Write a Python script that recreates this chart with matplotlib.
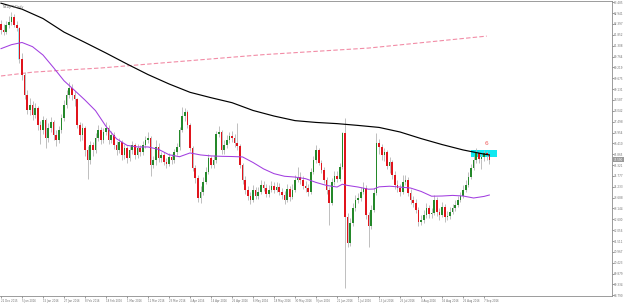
import matplotlib
matplotlib.use("Agg")
import matplotlib.pyplot as plt
from matplotlib.patches import Rectangle

symbol_title = "NZDJPY,Daily"

date_labels = ["22 Dec 2015", "5 Jan 2016", "15 Jan 2016", "27 Jan 2016", "8 Feb 2016",
               "18 Feb 2016", "1 Mar 2016", "11 Mar 2016", "23 Mar 2016", "4 Apr 2016",
               "14 Apr 2016", "26 Apr 2016", "6 May 2016", "18 May 2016", "30 May 2016",
               "9 Jun 2016", "21 Jun 2016", "1 Jul 2016", "13 Jul 2016", "25 Jul 2016",
               "4 Aug 2016", "16 Aug 2016", "26 Aug 2016", "7 Sep 2016"]
date_label_bars = list(range(0, 187, 8))

price_ticks = [68.790, 69.334, 69.879, 70.423, 70.967, 71.511, 72.056, 72.600, 73.144,
               73.688, 74.233, 74.777, 75.321, 75.865, 76.410, 76.954, 77.498, 78.042,
               78.587, 79.131, 79.675, 80.219, 80.764, 81.308, 81.852, 82.397, 82.941, 83.485]

first_open = 82.40
closes = [
    82.12, 82.02, 82.37, 82.52, 82.73, 82.37, 82.22, 80.62, 79.86, 78.86,
    78.10, 78.35, 77.85, 78.20, 77.35, 77.10, 77.60, 76.70, 77.20, 77.50,
    76.85, 76.60, 77.10, 77.70, 78.35, 78.86, 79.21, 78.86, 78.61, 77.35,
    76.85, 77.20, 76.09, 75.59, 76.34, 76.09, 76.70, 77.10, 76.60, 77.00,
    77.20, 76.60, 76.85, 76.34, 76.09, 76.49, 75.84, 76.19, 75.69, 76.09,
    76.34, 75.84, 76.19, 75.99, 76.34, 76.60, 76.70, 75.34, 75.59, 76.24,
    75.69, 75.84, 75.49, 75.39, 75.74, 75.59, 75.99, 76.24, 77.10, 77.80,
    78.00, 77.35, 76.19, 75.19, 74.69, 73.68, 73.98, 74.48, 74.99, 75.69,
    75.34, 75.59, 76.90, 77.00, 76.09, 76.34, 76.60, 76.80, 76.70, 76.44,
    76.29, 75.34, 74.58, 74.08, 73.78, 73.58, 74.08, 73.78, 73.98, 74.33,
    74.18, 73.88, 74.08, 74.28, 74.08, 74.23, 73.98, 73.83, 73.58, 74.13,
    73.73, 74.08, 74.58, 74.74, 74.58, 74.28, 74.18, 73.98, 74.99, 75.59,
    76.09, 75.44, 75.09, 74.58, 74.08, 73.43, 74.48, 74.79, 74.64, 75.24,
    76.95, 72.73, 71.42, 72.42, 73.18, 73.58, 73.68, 73.98, 74.18, 72.83,
    72.27, 73.08, 73.93, 76.44, 76.24, 75.84, 75.99, 75.29, 75.49, 74.84,
    74.33, 74.18, 73.98, 74.48, 74.58, 73.93, 73.58, 73.43, 73.08, 72.47,
    72.58, 72.83, 73.18, 72.88, 72.93, 73.58, 72.98, 72.83, 73.23, 72.73,
    72.78, 72.98, 73.18, 73.33, 73.58, 73.78, 74.08, 74.33, 74.74, 75.19,
    75.59, 75.94, 75.64, 75.74, 75.94, 75.84, 75.59,
]
highs = [
    82.62, 82.40, 82.55, 82.80, 83.00, 82.90, 82.55, 82.25, 80.95, 80.00,
    79.10, 78.70, 78.55, 78.45, 78.30, 77.55, 77.80, 77.70, 77.45, 77.75,
    77.60, 77.10, 77.30, 77.90, 78.60, 79.10, 79.50, 79.40, 79.05, 78.70,
    77.50, 77.45, 77.30, 76.30, 76.55, 76.50, 76.95, 77.35, 77.25, 77.20,
    77.50, 77.35, 77.05, 77.00, 76.55, 76.70, 76.60, 76.40, 76.30, 76.30,
    76.55, 76.45, 76.40, 76.35, 76.55, 76.80, 77.00, 76.80, 75.80, 76.60,
    76.45, 76.00, 76.00, 75.70, 75.95, 75.90, 76.15, 76.45, 77.25, 78.25,
    78.20, 78.10, 77.45, 76.30, 75.35, 74.80, 74.25, 74.70, 75.20, 75.90,
    75.80, 75.85, 77.05, 77.30, 77.10, 76.60, 76.85, 77.00, 77.05, 76.90,
    77.45, 76.40, 75.45, 74.75, 74.25, 73.95, 74.30, 74.20, 74.20, 74.55,
    74.50, 74.35, 74.30, 74.50, 74.45, 74.45, 74.40, 74.15, 74.00, 74.35,
    74.25, 74.35, 74.80, 75.24, 74.95, 74.75, 74.50, 74.35, 75.15, 75.80,
    76.35, 76.20, 75.60, 75.20, 74.70, 74.20, 74.65, 75.00, 75.00, 75.45,
    77.00, 77.70, 72.90, 72.65, 73.40, 73.80, 73.90, 74.20, 74.45, 74.30,
    72.95, 73.30, 74.15, 76.95, 76.65, 76.40, 76.20, 76.10, 75.75, 75.60,
    75.00, 74.55, 74.35, 74.80, 74.80, 74.70, 74.10, 73.75, 73.60, 73.20,
    72.80, 73.05, 73.40, 73.30, 73.15, 73.80, 73.70, 73.15, 73.45, 73.35,
    73.00, 73.20, 73.35, 73.55, 73.75, 73.95, 74.30, 74.55, 74.95, 75.40,
    75.80, 76.20, 76.05, 75.95, 76.10, 76.05, 75.95,
]
lows = [
    81.90, 81.85, 81.90, 82.20, 82.35, 82.25, 82.05, 80.45, 79.60, 78.65,
    77.90, 77.85, 77.60, 77.70, 77.10, 76.40, 76.90, 76.20, 76.50, 77.00,
    76.60, 76.30, 76.45, 76.95, 77.55, 78.20, 78.70, 78.60, 78.30, 77.20,
    76.55, 76.60, 75.80, 74.60, 75.40, 75.80, 75.95, 76.55, 76.40, 76.45,
    76.85, 76.40, 76.45, 76.15, 75.85, 75.95, 75.60, 75.65, 75.45, 75.55,
    75.90, 75.65, 75.70, 75.80, 75.85, 76.20, 76.45, 74.75, 75.15, 75.35,
    75.50, 75.50, 75.30, 75.15, 75.25, 75.40, 75.45, 75.85, 76.10, 77.00,
    77.55, 77.20, 76.05, 75.00, 74.40, 73.45, 73.40, 73.80, 74.35, 74.85,
    75.15, 75.15, 75.45, 76.75, 75.90, 75.90, 76.20, 76.45, 76.50, 76.25,
    76.10, 75.15, 74.35, 73.85, 73.55, 73.35, 73.45, 73.60, 73.60, 73.85,
    74.00, 73.70, 73.70, 73.95, 73.90, 73.95, 73.80, 73.60, 73.35, 73.45,
    73.50, 73.60, 73.95, 74.45, 74.35, 74.10, 73.95, 73.75, 73.85, 74.85,
    75.45, 75.30, 74.90, 74.40, 73.85, 72.30, 73.30, 74.30, 74.45, 74.50,
    75.10, 69.16, 71.20, 71.25, 72.25, 73.00, 73.40, 73.50, 73.85, 72.60,
    71.20, 72.10, 72.95, 73.80, 75.90, 75.60, 75.55, 75.10, 74.90, 74.60,
    74.10, 73.95, 73.75, 73.85, 74.30, 73.75, 73.35, 73.20, 72.90, 72.25,
    72.30, 72.40, 72.65, 72.65, 72.65, 72.80, 72.75, 72.55, 72.70, 72.45,
    72.55, 72.60, 72.85, 73.00, 73.20, 73.45, 73.65, 73.95, 74.20, 74.60,
    75.05, 75.45, 75.45, 75.10, 75.55, 75.60, 75.40,
]
opens = [first_open] + closes[:-1]

# bar that carries the light-blue highlight stroke
highlight_bar = 7

# slow moving average (black), read at every 8th bar
slow_ma_bars = [0, 8, 16, 24, 32, 40, 48, 56, 64, 72, 80, 88, 96, 104, 112, 120,
                128, 136, 144, 152, 160, 168, 176, 184, 186]
slow_ma = [83.44, 83.14, 82.67, 81.99, 81.47, 80.94, 80.39, 79.86, 79.39, 78.97,
           78.70, 78.45, 78.06, 77.78, 77.55, 77.46, 77.40, 77.31, 77.21, 76.98,
           76.65, 76.35, 76.08, 75.87, 75.83]

# fast moving average (purple)
fast_ma_bars = [0, 4, 8, 12, 16, 20, 24, 28, 32, 36, 40, 44, 48, 52, 56, 60, 64, 68,
                72, 76, 80, 84, 88, 92, 96, 100, 104, 108, 112, 116, 120, 124, 128, 130,
                132, 136, 140, 142, 144, 148, 152, 156, 160, 164, 168, 172, 176, 180,
                184, 186]
fast_ma = [81.16, 81.36, 81.47, 81.26, 80.84, 80.21, 79.55, 79.07, 78.58, 78.05,
           77.26, 76.64, 76.31, 76.23, 76.23, 76.11, 75.84, 75.74, 75.93, 75.83,
           75.78, 75.76, 75.75, 75.73, 75.45, 75.13, 74.89, 74.76, 74.72, 74.64,
           74.45, 74.30, 74.22, 74.36, 74.30, 74.22, 74.11, 74.12, 74.23, 74.26,
           74.22, 74.17, 74.00, 73.76, 73.77, 73.80, 73.77, 73.67, 73.75, 73.82]

# pink dashed average
pink_bars = [0, 12, 25, 38, 61, 100, 140, 185]
pink_ma = [79.79, 79.98, 80.09, 80.19, 80.44, 80.86, 81.19, 81.79]

# cyan zone and its label
zone_bars = (179.0, 189.0)
zone_prices = (75.73, 76.08)
zone_label = "6"
zone_label_pos = (184.8, 76.40)

fig = plt.figure(figsize=(6.25, 3.03), dpi=100)
ax = fig.add_axes([0, 7 / 303, 611.7 / 625, 295 / 303])
ax.set_xlim(-0.38, 232.6)
ax.set_ylim(68.755, 83.55)

grid_col = "#8c8c8c"
text_col = "#707070"

ax.add_patch(Rectangle((zone_bars[0], zone_prices[0]), zone_bars[1] - zone_bars[0],
                       zone_prices[1] - zone_prices[0], facecolor="#10e8f0",
                       edgecolor="none", zorder=1))

ax.plot(pink_bars, pink_ma, color="#f28ca6", lw=0.8, ls=(0, (4, 2)), zorder=2)

bars = list(range(len(closes)))
ax.vlines(bars, lows, highs, color="#b4b4b4", lw=0.6, zorder=3)
ax.vlines(highlight_bar - 0.45, closes[highlight_bar], opens[highlight_bar],
          color="#9ee8f4", lw=0.7, zorder=3)
up = [i for i in bars if closes[i] >= opens[i]]
dn = [i for i in bars if closes[i] < opens[i]]
ax.bar(up, [closes[i] - opens[i] for i in up], bottom=[opens[i] for i in up],
       width=0.62, color="#24882a", linewidth=0, zorder=4)
ax.bar(dn, [opens[i] - closes[i] for i in dn], bottom=[closes[i] for i in dn],
       width=0.62, color="#e0141c", linewidth=0, zorder=4)

ax.plot(slow_ma_bars, slow_ma, color="black", lw=0.85, zorder=5)
ax.plot(fast_ma_bars, fast_ma, color="#a23ee0", lw=0.75, zorder=5)

ax.text(*zone_label_pos, zone_label, color="#f05a5a", fontsize=4.2, ha="center",
        va="center", zorder=6)

ax.yaxis.tick_right()
ax.set_yticks(price_ticks)
ax.set_yticklabels([f"{v:.3f}" for v in price_ticks])
ax.set_xticks(date_label_bars)
ax.set_xticklabels(date_labels, ha="left")
ax.tick_params(axis="y", labelsize=2.0, colors=text_col, length=1.2, width=0.5, pad=0.5)
ax.tick_params(axis="x", labelsize=1.9, colors=text_col, length=1.5, width=0.5, pad=0.5)
for lab in ax.get_xticklabels():
    lab.set_horizontalalignment("left")

for side in ["right", "bottom", "top"]:
    ax.spines[side].set_color(grid_col)
    ax.spines[side].set_linewidth(0.6)
ax.spines["left"].set_visible(False)

ax.annotate(f"{closes[-1]:.3f}", xy=(1.0, closes[-1]), xycoords=("axes fraction", "data"),
            xytext=(1.5, 0), textcoords="offset points", fontsize=2.0, color="white",
            va="center", ha="left",
            bbox=dict(boxstyle="square,pad=0.25", fc="#9a9a9a", ec="none"))

fig.text(0.004, 0.985, symbol_title, fontsize=2.3, color=text_col, ha="left", va="top")

fig.savefig("out.png", dpi=100, facecolor="white")
